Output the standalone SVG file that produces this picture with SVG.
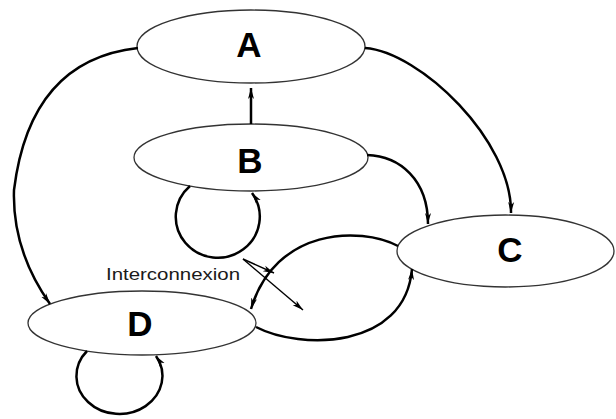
<svg xmlns="http://www.w3.org/2000/svg" width="616" height="419" viewBox="0 0 616 419">
  <style>
    .node { fill: #ffffff; stroke: #333333; stroke-width: 1.3; }
    .label { font-family: "Liberation Sans", Arial, sans-serif; font-weight: bold; font-size: 35px; fill: #000000; text-anchor: middle; }
    .edge { fill: none; stroke: #000000; stroke-width: 2.5; marker-end: url(#arrow); }
    .thin { fill: none; stroke: #000000; stroke-width: 1.4; marker-end: url(#arrow); }
    .note { font-family: "Liberation Sans", Arial, sans-serif; font-size: 16.5px; fill: #1a1a1a; }
  </style>
  <defs>
    <marker id="arrow" markerUnits="userSpaceOnUse" markerWidth="12" markerHeight="8" refX="11" refY="3.5" orient="auto">
      <path d="M0,0.5 L11,3.5 L0,6.5 L3,3.5 Z" fill="#000000"/>
    </marker>
  </defs>

  <rect width="616" height="419" fill="#ffffff"/>

  <g id="node-A">
    <ellipse class="node" cx="251" cy="46.5" rx="114" ry="36.5"/>
    <text class="label" x="249" y="57">A</text>
  </g>
  <g id="node-B">
    <ellipse class="node" cx="251" cy="157.5" rx="117" ry="33.5"/>
    <text class="label" x="250" y="173">B</text>
  </g>
  <g id="node-C">
    <ellipse class="node" cx="505.5" cy="251" rx="108.5" ry="36"/>
    <text class="label" x="510" y="262">C</text>
  </g>
  <g id="node-D">
    <ellipse class="node" cx="142" cy="323" rx="114" ry="32"/>
    <text class="label" x="140" y="336">D</text>
  </g>

  <g id="connectors">
    <!-- B to A -->
    <path class="edge" d="M251,124 L251,88"/>
    <!-- A to D -->
    <path class="edge" d="M138,48 Q30,60 14,190 Q12,250 50,304"/>
    <!-- A to C -->
    <path class="edge" d="M365,48 C420,52 512,140 511,213"/>
    <!-- B to C -->
    <path class="edge" d="M367,155 C400,156 428,180 428,224"/>
    <!-- B self loop -->
    <path class="edge" d="M190,186 A42,41 0 1 0 252,193"/>
    <!-- D self loop -->
    <path class="edge" d="M87,351 A43,38 0 1 0 156,356"/>
    <!-- C to D (upper arc) -->
    <path class="edge" d="M398,246 C360,226 275,228 251,309"/>
    <!-- D to C (lower arc) -->
    <path class="edge" d="M256,327 C300,350 405,350 412,269"/>
    <!-- interconnexion pointers -->
    <path class="thin" d="M243,259 L274,273"/>
    <path class="thin" d="M243,259 L303,310"/>
  </g>

  <text class="note" x="106" y="280" textLength="134" lengthAdjust="spacingAndGlyphs">Interconnexion</text>
</svg>
